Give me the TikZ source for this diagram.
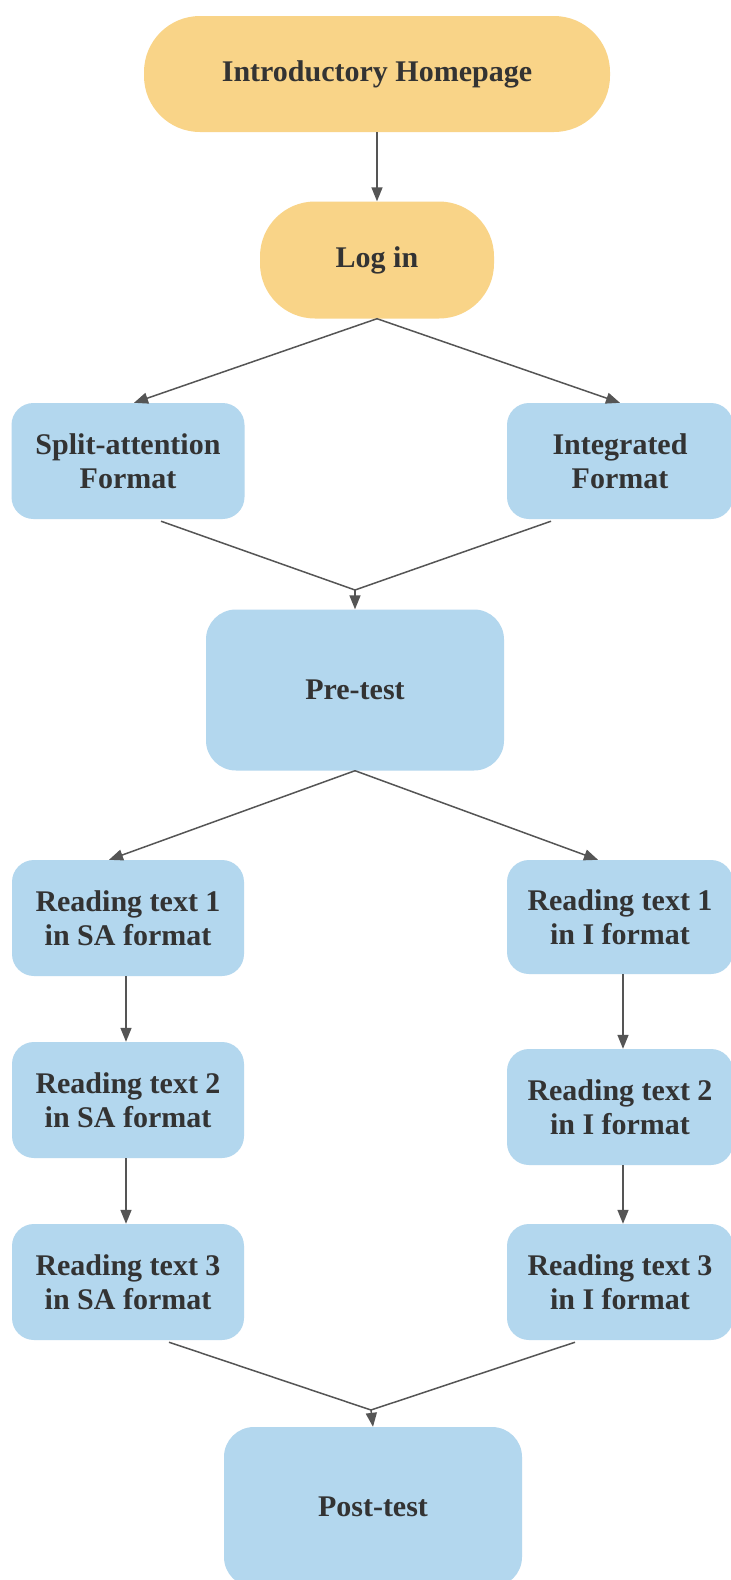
\documentclass[tikz,border=0pt]{standalone}
\usepackage{fontspec}
\setmainfont{Liberation Serif}
\usetikzlibrary{arrows.meta}
\definecolor{yel}{HTML}{F9D488}
\definecolor{blu}{HTML}{B3D7EE}
\definecolor{txt}{HTML}{333333}
\definecolor{arr}{HTML}{555555}
\begin{document}
\begin{tikzpicture}[x=1pt,y=-1pt,
 box/.style={rectangle, rounded corners=22pt, fill=blu, text=txt, font=\fontsize{30}{34}\selectfont\bfseries, align=center, inner sep=0pt},
 pill/.style={box, fill=yel},
 conn/.style={draw=arr, line width=1.5pt},
 arrowed/.style={conn, -{Triangle[length=14pt,width=11pt]}}]
\useasboundingbox (0,0) rectangle (731,1580);
\fill[white] (0,0) rectangle (731,1580);

\node[pill, rounded corners=56pt, minimum width=466pt, minimum height=116pt] (intro) at (377,74) {\raisebox{-3pt}{Introductory Homepage}};
\node[pill, rounded corners=55pt, minimum width=234pt, minimum height=117pt] (login) at (377,260) {\raisebox{-2pt}{Log in}};
\node[box, minimum width=233pt, minimum height=116pt] (split) at (128,461) {Split-attention\\Format};
\node[box, minimum width=226pt, minimum height=116pt] (integ) at (620,461) {Integrated\\Format};
\node[box, rounded corners=30pt, minimum width=298pt, minimum height=161pt] (pre) at (355,690) {Pre-test};

\node[box, minimum width=232pt, minimum height=116pt] (sa1) at (128,918) {Reading text 1\\in SA format};
\node[box, minimum width=226pt, minimum height=114pt] (i1) at (620,917) {Reading text 1\\in I format};
\node[box, minimum width=232pt, minimum height=116pt] (sa2) at (128,1100) {Reading text 2\\in SA format};
\node[box, minimum width=226pt, minimum height=116pt] (i2) at (620,1107) {Reading text 2\\in I format};
\node[box, minimum width=232pt, minimum height=116pt] (sa3) at (128,1282) {Reading text 3\\in SA format};
\node[box, minimum width=226pt, minimum height=116pt] (i3) at (620,1282) {Reading text 3\\in I format};
\node[box, rounded corners=30pt, minimum width=298pt, minimum height=160pt] (post) at (373,1507) {Post-test};

\coordinate (m1) at (355,590);
\coordinate (m2) at (371,1410);

\draw[arrowed] (intro.south) -- (login.north);
\draw[arrowed] (login.south) -- ([xshift=6pt]split.north);
\draw[arrowed] (login.south) -- (integ.north);
\draw[conn] ([xshift=33pt,yshift=-2pt]split.south) -- (m1);
\draw[conn] ([xshift=-69pt,yshift=-2pt]integ.south) -- (m1);
\draw[arrowed] (m1) -- (pre.north);
\draw[arrowed] (pre.south) -- ([xshift=-19pt]sa1.north);
\draw[arrowed] (pre.south) -- ([xshift=-22pt]i1.north);
\draw[arrowed] ([xshift=-2pt]sa1.south) -- ([xshift=-2pt]sa2.north);
\draw[arrowed] ([xshift=-2pt]sa2.south) -- ([xshift=-2pt]sa3.north);
\draw[arrowed] ([xshift=3pt]i1.south) -- ([xshift=3pt]i2.north);
\draw[arrowed] ([xshift=3pt]i2.south) -- ([xshift=3pt]i3.north);
\draw[conn] ([xshift=41pt,yshift=-2pt]sa3.south) -- (m2);
\draw[conn] ([xshift=-45pt,yshift=-2pt]i3.south) -- (m2);
\draw[arrowed] (m2) -- (post.north);
\end{tikzpicture}
\end{document}
